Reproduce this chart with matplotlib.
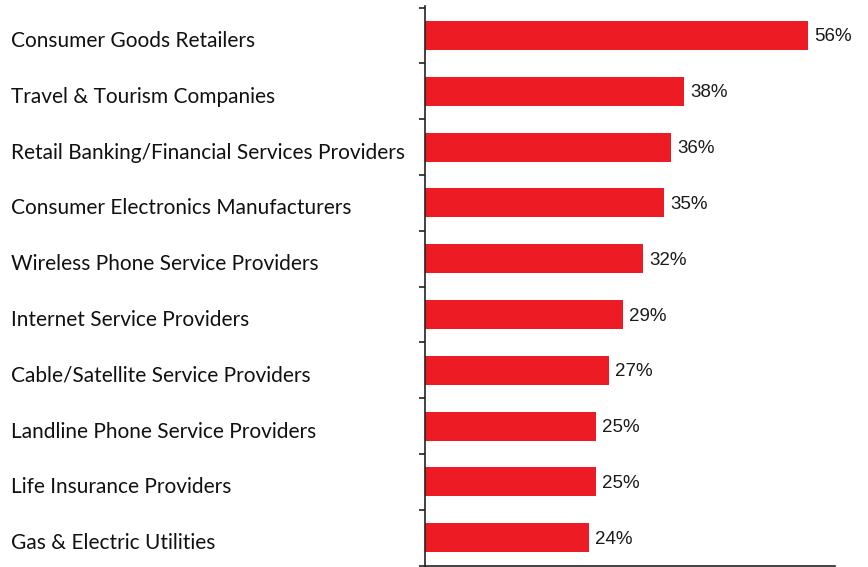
import matplotlib
matplotlib.use("Agg")
import matplotlib.pyplot as plt
from matplotlib.transforms import blended_transform_factory, offset_copy
import numpy as np

categories = [
    "Consumer Goods Retailers",
    "Travel & Tourism Companies",
    "Retail Banking/Financial Services Providers",
    "Consumer Electronics Manufacturers",
    "Wireless Phone Service Providers",
    "Internet Service Providers",
    "Cable/Satellite Service Providers",
    "Landline Phone Service Providers",
    "Life Insurance Providers",
    "Gas & Electric Utilities",
]
values = [56, 38, 36, 35, 32, 29, 27, 25, 25, 24]

W, H = 868, 567
fig = plt.figure(figsize=(W / 100, H / 100), dpi=100)
ax = fig.add_axes([424.5 / W, 1 - 566 / H, (835 - 424.5) / W, (566 - 5.7) / H])

n = len(categories)
y = np.arange(n)
ax.barh(y, values, height=0.52, color="#ED1C24", zorder=2)

ax.set_xlim(0, 60)
ax.set_ylim(9.507, -0.534)

for spine in ("top", "right"):
    ax.spines[spine].set_visible(False)
for spine in ("left", "bottom"):
    ax.spines[spine].set_color("#222222")
    ax.spines[spine].set_linewidth(1.2)

ax.set_xticks([])
ax.set_yticks(np.arange(-0.5, n, 1.0))
ax.set_yticklabels([])
ax.tick_params(axis="y", direction="out", length=4, width=1.2, color="#222222")

# value labels just past the end of each bar
val_tr = offset_copy(ax.transData, fig=fig, x=0, y=-1.5, units="dots")
for yi, v in zip(y, values):
    ax.text(v + 0.9, yi, f"{v}%", va="center", ha="left", transform=val_tr,
            fontsize=13.5, family="Liberation Sans", color="#1a1a1a")

# category names, left-aligned at the figure edge
cat_tr = offset_copy(blended_transform_factory(fig.transFigure, ax.transData),
                     fig=fig, x=0, y=-11.5, units="dots")
for yi, c in zip(y, categories):
    ax.text(11 / W, yi, c, transform=cat_tr, va="baseline", ha="left",
            fontsize=15, family="Lato", color="#111111")

fig.savefig("out.png", dpi=100)
